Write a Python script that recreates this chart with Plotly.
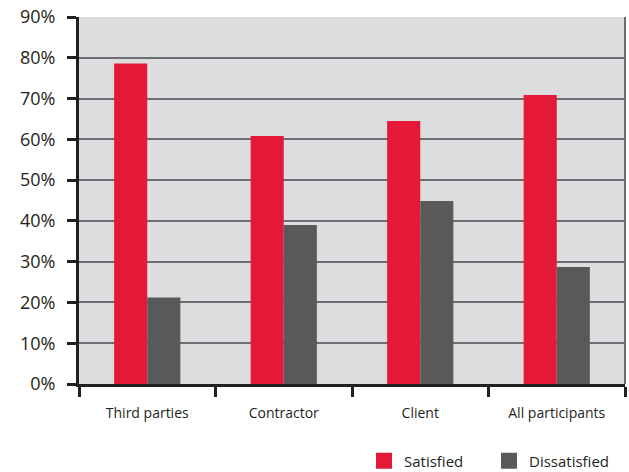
import plotly.graph_objects as go

# Survey results by respondent group
categories = ["Third parties", "Contractor", "Client", "All participants"]
satisfied = [78.6, 60.8, 64.5, 70.9]
dissatisfied = [21.2, 39.0, 44.9, 28.7]
y_ticks = [0, 10, 20, 30, 40, 50, 60, 70, 80, 90]
y_tick_labels = [f"{v}%" for v in y_ticks]

RED = "#E31937"
GREY = "#58595B"
BG = "#DCDDDF"
TEXT = "#231F20"
FONT = "Open Sans"

fig = go.Figure()
fig.add_trace(go.Bar(x=categories, y=satisfied, name="Satisfied",
                     marker=dict(color=RED, line=dict(width=0)), showlegend=False))
fig.add_trace(go.Bar(x=categories, y=dissatisfied, name="Dissatisfied",
                     marker=dict(color=GREY, line=dict(width=0)), showlegend=False))

# Legend entries with larger square swatches
for name, col in [("Satisfied", RED), ("Dissatisfied", GREY)]:
    fig.add_trace(go.Scatter(x=[None], y=[None], mode="markers", name=name,
                             marker=dict(symbol="square", size=17, color=col)))

fig.update_layout(
    width=629, height=472,
    margin=dict(l=79, r=4, t=17, b=88, autoexpand=False),
    paper_bgcolor="white",
    plot_bgcolor=BG,
    barmode="group",
    bargap=0.515,
    bargroupgap=0,
    font=dict(family=FONT, color=TEXT),
    legend=dict(orientation="h", x=0.522, xanchor="left",
                yref="container", y=0.058, yanchor="top",
                font=dict(size=15, color=TEXT), itemwidth=30,
                entrywidth=80, entrywidthmode="pixels",
                bgcolor="rgba(0,0,0,0)"),
    xaxis=dict(
        type="category",
        tickson="boundaries",
        ticks="outside", ticklen=10, tickwidth=3, tickcolor="#231F20",
        showline=True, linecolor="#231F20", linewidth=3,
        showgrid=False,
        tickfont=dict(size=14, color=TEXT),
        ticklabelstandoff=14,
    ),
    yaxis=dict(
        range=[0, 90],
        tickvals=y_ticks, ticktext=y_tick_labels,
        ticks="outside", ticklen=9, tickwidth=3, tickcolor="#231F20",
        showline=True, linecolor="#231F20", linewidth=3,
        showgrid=True, gridcolor="#6D6E71", gridwidth=2,
        zeroline=False,
        tickfont=dict(size=18, color=TEXT),
        ticklabelstandoff=8,
    ),
    shapes=[dict(type="line", xref="paper", yref="paper", x0=1, x1=1, y0=0, y1=1,
                 line=dict(color="#6D6E71", width=2))],
)

fig.write_html("out.html")
